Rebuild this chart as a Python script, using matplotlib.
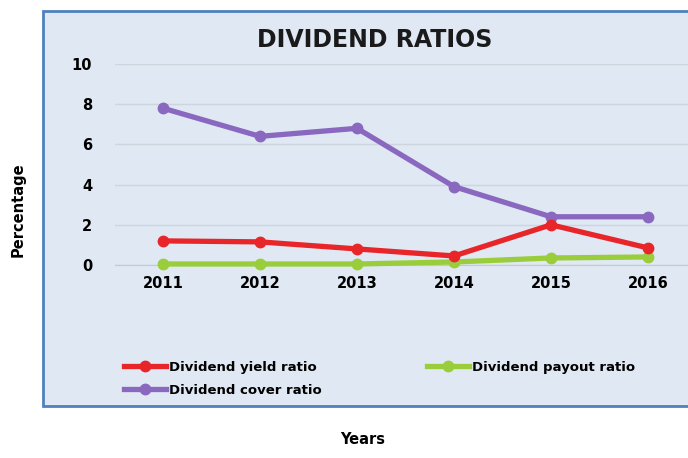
import matplotlib
matplotlib.use("Agg")
import matplotlib.pyplot as plt
from matplotlib.patches import Rectangle

years = ["2011", "2012", "2013", "2014", "2015", "2016"]
yield_ratio = [1.2, 1.15, 0.8, 0.45, 2.0, 0.85]
payout_ratio = [0.05, 0.05, 0.05, 0.15, 0.35, 0.4]
cover_ratio = [7.8, 6.4, 6.8, 3.9, 2.4, 2.4]
yticks = [0, 2, 4, 6, 8, 10]

plt.rcParams['font.family'] = ['DejaVu Sans']
plt.rcParams['font.weight'] = 'bold'

W, H = 688, 458
fig = plt.figure(figsize=(W/100, H/100), dpi=100)
fig.patch.set_facecolor('white')

# outer chart box
box = Rectangle((43/W, 1 - 406/H), 700/W, (406-11)/H, transform=fig.transFigure,
                facecolor='#dfe8f3', edgecolor='#4f81bd', linewidth=2, zorder=-10)
fig.patches.append(box)

ax = fig.add_axes([114.5/W, 1 - 265/H, 582/W, (265-64)/H])
ax.set_zorder(1)
ax.set_facecolor('none')
x = list(range(len(years)))
ax.plot(x, payout_ratio, color='#9acd3c', lw=3.8, marker='o', ms=7.5, clip_on=False, zorder=3,
        label='Dividend payout ratio')
ax.plot(x, yield_ratio, color='#e8262a', lw=3.8, marker='o', ms=7.5, clip_on=False, zorder=4,
        label='Dividend yield ratio')
ax.plot(x, cover_ratio, color='#8a68c0', lw=3.8, marker='o', ms=7.5, clip_on=False, zorder=2,
        label='Dividend cover ratio')

ax.set_xlim(-0.5, len(years) - 0.5)
ax.set_ylim(0, 10)
ax.set_yticks(yticks)
ax.set_xticks(x)
ax.set_xticklabels(years)
ax.grid(axis='y', color='#cfd5dc', lw=1)
ax.set_axisbelow(True)
for s in ['top', 'right', 'left']:
    ax.spines[s].set_visible(False)
ax.spines['bottom'].set_color('#c8c8c8')
ax.tick_params(length=0, labelsize=10.5, pad=8)
ax.tick_params(axis='y', pad=16)

fig.text(375/W, 1 - 40/H, 'DIVIDEND RATIOS', ha='center', va='center',
         fontsize=17, fontweight='bold', color='#1a1a1a')
fig.text(18/W, 1 - 210/H, 'Percentage', rotation=90, ha='center', va='center',
         fontsize=10.5, fontweight='bold')
fig.text(363/W, 1 - 440/H, 'Years', ha='center', va='center',
         fontsize=10.5, fontweight='bold')

handles, labels = ax.get_legend_handles_labels()
order = [1, 2, 0]
leg = fig.legend([handles[i] for i in order], [labels[i] for i in order],
                 loc='upper left', bbox_to_anchor=(124/W, 1 - 361/H), ncol=2,
                 frameon=False, fontsize=9.5, handlelength=3.2, handletextpad=0.2,
                 columnspacing=8, labelspacing=0.75, borderaxespad=0, borderpad=0)

fig.savefig('out.png', dpi=100)
